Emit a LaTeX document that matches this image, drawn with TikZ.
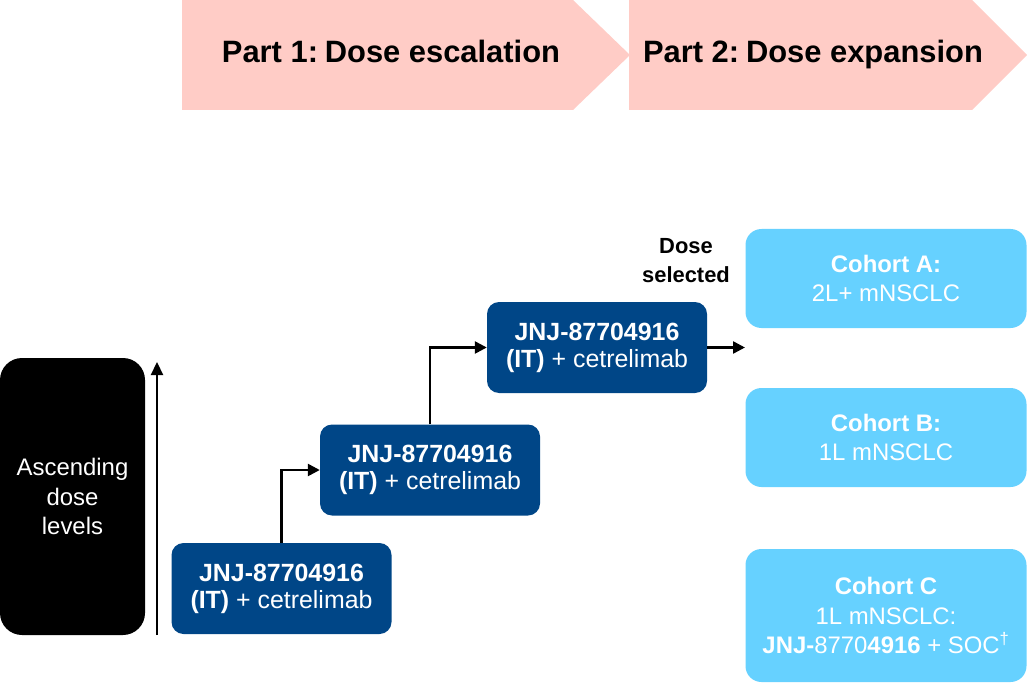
\documentclass[tikz,border=0pt]{standalone}
\usepackage{fontspec}
\setmainfont{Liberation Sans}
\usetikzlibrary{arrows.meta}
\definecolor{pinkband}{HTML}{FFCCC6}
\definecolor{darkblue}{HTML}{004687}
\definecolor{lightblue}{HTML}{66D1FF}
\tikzset{
  drugbox/.style={fill=darkblue, rounded corners=12bp, text=white, align=center,
    minimum width=220bp, minimum height=91bp, inner sep=0pt,
    font=\fontsize{25}{27}\selectfont},
  cohortbox/.style={fill=lightblue, rounded corners=16bp, text=white, align=center,
    minimum width=281bp, inner sep=0pt, font=\fontsize{24}{30}\selectfont},
  levelbox/.style={fill=black, rounded corners=22bp, text=white, align=center,
    minimum width=145bp, minimum height=277bp, inner sep=0pt,
    font=\fontsize{24}{30}\selectfont},
  connector/.style={line width=2.5bp, -{Triangle[length=12bp,width=12bp]}},
  bandtext/.style={font=\fontsize{31}{34}\selectfont\bfseries, anchor=base},
}
\begin{document}
\begin{tikzpicture}[x=1bp,y=-1bp]
\useasboundingbox (0,0) rectangle (1027,683);
% banners
\fill[pinkband] (182,0) -- (573,0) -- (630,55) -- (573,110) -- (182,110) -- cycle;
\fill[pinkband] (629,0) -- (972,0) -- (1027,55) -- (972,110) -- (629,110) -- cycle;
\node[bandtext] (p1) at (391,63) {Part 1:\hspace{-0.15em} Dose escalation};
\node[bandtext] (p2) at (813,63) {Part 2:\hspace{-0.15em} Dose expansion};
% ascending
\node[levelbox] (lev) at (72.5,496.5) {Ascending\\dose\\levels};
\coordinate (vb) at (157,635);
\coordinate (vt) at (157,362);
\draw[line width=2.2bp, -{Triangle[length=13bp,width=12bp]}] (vb) -- (vt);
% drug boxes
\node[drugbox] (b1) at (281.5,588.5) {\textbf{JNJ-87704916}\\\textbf{(IT)} + cetrelimab};
\node[drugbox] (b2) at (430,470) {\textbf{JNJ-87704916}\\\textbf{(IT)} + cetrelimab};
\node[drugbox] (b3) at (597,347.5) {\textbf{JNJ-87704916}\\\textbf{(IT)} + cetrelimab};
\draw[connector] (b1.north) |- (b2.west);
\draw[connector] (b2.north) |- (b3.west);
\coordinate (sel) at (745,347.5);
\draw[connector] (b3.east) -- (sel);
\node[align=center, font=\fontsize{22}{29}\selectfont\bfseries] (ds) at (686,261) {Dose\\selected};
% cohorts
\node[cohortbox, minimum height=99bp] (ca) at (886,278.5) {\textbf{Cohort A:}\\2L+ mNSCLC};
\node[cohortbox, minimum height=99bp] (cb) at (886,437.5) {\textbf{Cohort B:}\\1L mNSCLC};
\node[cohortbox, minimum height=133bp] (cc) at (886,615.5) {\textbf{Cohort C}\\1L mNSCLC:\\\textbf{JNJ-}8770\textbf{4916} + SOC\textsuperscript{†}};
\end{tikzpicture}
\end{document}
